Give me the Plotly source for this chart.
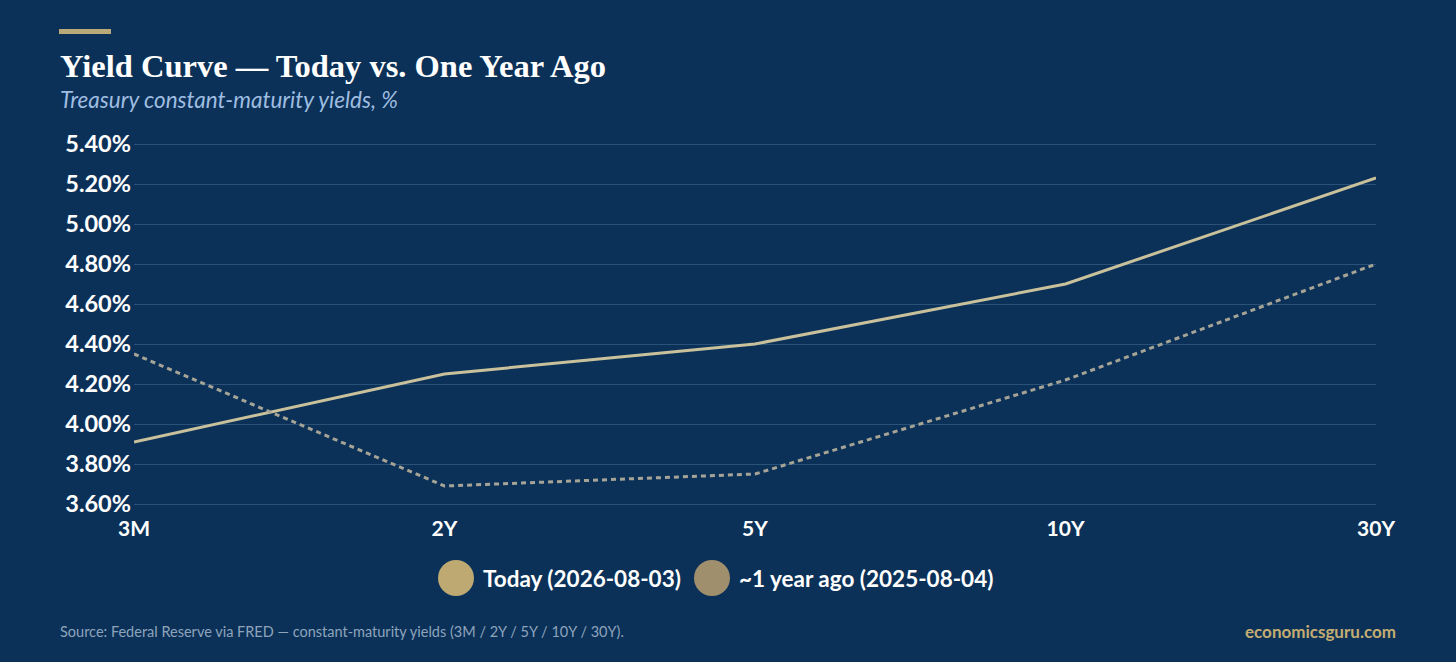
import plotly.graph_objects as go

# ---- data ----
maturities = ["3M", "2Y", "5Y", "10Y", "30Y"]
today_yields = [3.91, 4.25, 4.40, 4.70, 5.23]
year_ago_yields = [4.35, 3.69, 3.75, 4.22, 4.80]
today_label = "Today (2026-08-03)"
year_ago_label = "~1 year ago (2025-08-04)"
y_ticks = [3.6, 3.8, 4.0, 4.2, 4.4, 4.6, 4.8, 5.0, 5.2, 5.4]

# ---- style ----
BG = "#0b3158"
GRID = "#2a5279"
TODAY_LINE = "#c8c19b"
AGO_LINE = "#a6a496"
TODAY_DOT = "#bea972"
AGO_DOT = "#a08f6c"
SANS = "Lato, 'Noto Sans', sans-serif"
SERIF = "'Liberation Serif', 'DejaVu Serif', serif"

W, H = 1456, 662
L, R, T, B = 134, 80, 142, 156
PW, PH = W - L - R, H - T - B
PAD = 0.01  # ~2px of range beyond the end ticks so their gridlines are drawn


def px(x):
    return (x - L) / PW


def py(y):
    return (H - B - y) / PH


fig = go.Figure()
fig.add_trace(go.Scatter(
    x=maturities, y=today_yields, mode="lines", name=today_label,
    line=dict(color=TODAY_LINE, width=3), showlegend=False,
))
fig.add_trace(go.Scatter(
    x=maturities, y=year_ago_yields, mode="lines", name=year_ago_label,
    line=dict(color=AGO_LINE, width=3, dash="5px,4px"), showlegend=False,
))

annotations = [
    dict(text="<b>Yield Curve — Today vs. One Year Ago</b>", x=px(58), y=py(66),
         xref="paper", yref="paper", xanchor="left", yanchor="middle", showarrow=False,
         font=dict(family=SERIF, size=32.5, color="#ffffff")),
    dict(text="<i>Treasury constant-maturity yields, %</i>", x=px(58), y=py(100),
         xref="paper", yref="paper", xanchor="left", yanchor="middle", showarrow=False,
         font=dict(family=SANS, size=22.5, color="#9fbde0")),
    dict(text="Source: Federal Reserve via FRED — constant-maturity yields (3M / 2Y / 5Y / 10Y / 30Y).",
         x=px(58), y=py(631), xref="paper", yref="paper", xanchor="left", yanchor="middle",
         showarrow=False, font=dict(family=SANS, size=14.5, color="#8ea4bd")),
    dict(text="<b>economicsguru.com</b>", x=px(1398), y=py(631), xref="paper", yref="paper",
         xanchor="right", yanchor="middle", showarrow=False,
         font=dict(family=SANS, size=17, color="#c3ad72")),
    dict(text="<b>" + today_label + "</b>", x=px(481), y=py(578), xref="paper", yref="paper",
         xanchor="left", yanchor="middle", showarrow=False,
         font=dict(family=SANS, size=22.5, color="#ffffff")),
    dict(text="<b>" + year_ago_label + "</b>", x=px(737), y=py(578), xref="paper", yref="paper",
         xanchor="left", yanchor="middle", showarrow=False,
         font=dict(family=SANS, size=22.5, color="#ffffff")),
]

shapes = [
    dict(type="rect", xref="paper", yref="paper", x0=px(59), x1=px(111), y0=py(34), y1=py(29),
         fillcolor="#b9a878", line=dict(width=0)),
    dict(type="circle", xref="paper", yref="paper", xsizemode="pixel", ysizemode="pixel",
         xanchor=px(456), yanchor=py(578), x0=-18, x1=18, y0=-18, y1=18,
         fillcolor=TODAY_DOT, line=dict(width=0)),
    dict(type="circle", xref="paper", yref="paper", xsizemode="pixel", ysizemode="pixel",
         xanchor=px(712), yanchor=py(578), x0=-18, x1=18, y0=-18, y1=18,
         fillcolor=AGO_DOT, line=dict(width=0)),
]

fig.update_layout(
    width=W, height=H,
    paper_bgcolor=BG, plot_bgcolor=BG,
    margin=dict(l=L, r=R, t=T, b=B, pad=0),
    annotations=annotations, shapes=shapes,
    showlegend=False,
    xaxis=dict(
        type="category", range=[0, len(maturities) - 1], showgrid=False, zeroline=False,
        showline=False, ticks="", tickfont=dict(family=SANS, size=21, color="#ffffff", weight="bold"),
        ticklabelstandoff=8, fixedrange=True,
    ),
    yaxis=dict(
        range=[y_ticks[0] - PAD, y_ticks[-1] + PAD], tickvals=y_ticks,
        ticktext=[f"{v:.2f}%" for v in y_ticks],
        showgrid=True, gridcolor=GRID, gridwidth=1, zeroline=False, showline=False, ticks="",
        tickfont=dict(family=SANS, size=23.5, color="#ffffff", weight="bold"),
        ticklabelstandoff=2, fixedrange=True,
    ),
)

fig.write_html("out.html", config=dict(displayModeBar=False),
               post_script="document.body.style.margin='0';document.body.style.overflow='hidden';")
